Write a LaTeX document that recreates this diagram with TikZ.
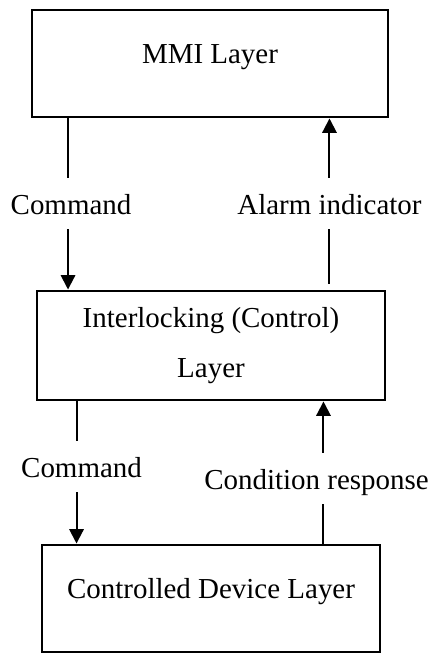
\documentclass[tikz,border=0pt]{standalone}
\usepackage{fontspec}
\setmainfont{Liberation Serif}
\usetikzlibrary{arrows.meta,calc,positioning}

\begin{document}
\begin{tikzpicture}[
  font=\fontsize{20.6}{35.6}\selectfont,
  >={Triangle[length=0.36cm,width=0.36cm]},
  layer/.style={draw,rectangle,line width=2.1pt,minimum width=8.9cm,
                minimum height=2.675cm,align=center},
  oneline/.style={text height=0.5cm,text depth=0.5cm},
  flow/.style={draw,line width=1.4pt},
  msg/.style={fill=white,inner xsep=2pt,inner ysep=0pt,
              text height=0.9cm,text depth=0.375cm},
]
\useasboundingbox (0,0) rectangle (10.825,-16.35);

%% =====================================================
%%  THREE LAYERS stacked vertically
%% =====================================================

% --- MMI layer ---
\node[layer,oneline] (mmi) at (5.25,-1.5875) {MMI Layer};

% --- Interlocking layer ---
\node[layer,minimum width=8.7cm,minimum height=2.725cm] (ilk) at (5.275,-8.6375)
     {Interlocking (Control)\\Layer};

% --- Controlled device layer ---
\node[layer,oneline,minimum width=8.45cm] (dev) at (5.275,-14.9625)
     {Controlled Device Layer};

%% =====================================================
%%  Connections between the layers
%% =====================================================

% MMI -> Interlocking
\draw[flow,->] ([xshift=0.9375cm]mmi.south west)
     -- node[msg,xshift=0.075cm]{Command}
     ([xshift=0.9375cm]mmi.south west |- ilk.north);

% Interlocking -> MMI
\draw[flow,->,shorten <=0.15cm] ([xshift=-1.5cm]mmi.south east |- ilk.north)
     -- node[msg]{Alarm indicator}
     ([xshift=-1.5cm]mmi.south east);

% Interlocking -> Controlled device
\draw[flow,->] ([xshift=1.025cm]ilk.south west)
     -- node[msg,pos=0.46,xshift=0.125cm]{Command}
     ([xshift=1.025cm]ilk.south west |- dev.north);

% Controlled device -> Interlocking
\draw[flow,->] ([xshift=-1.575cm]ilk.south east |- dev.north)
     -- node[msg,pos=0.455,xshift=-0.175cm]{Condition response}
     ([xshift=-1.575cm]ilk.south east);

\end{tikzpicture}
\end{document}
